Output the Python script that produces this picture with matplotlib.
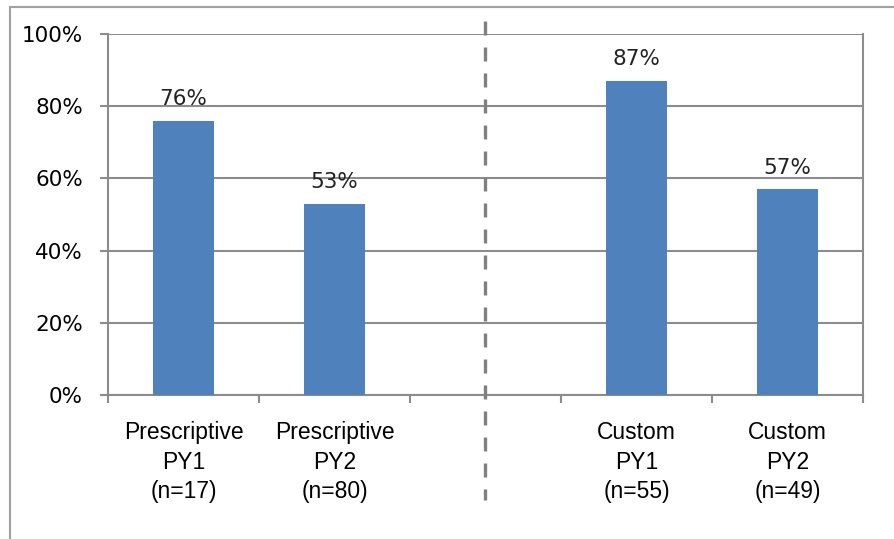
import matplotlib.pyplot as plt
from matplotlib.patches import Rectangle
from matplotlib.lines import Line2D

# Data (blank slot separates the two program groups)
categories = ["Prescriptive\nPY1\n(n=17)", "Prescriptive\nPY2\n(n=80)", "",
              "Custom\nPY1\n(n=55)", "Custom\nPY2\n(n=49)"]
values = [76, 53, None, 87, 57]

BAR_COLOR = "#4F81BD"
GRID_COLOR = "#8C8C8C"

fig = plt.figure(figsize=(8.94, 5.39), dpi=100)
ax = fig.add_axes([0.1208, 0.2672, 0.9653 - 0.1208, 0.9369 - 0.2672])

# bars and value labels
for i, v in enumerate(values):
    if v is None:
        continue
    ax.bar(i, v, width=0.4, color=BAR_COLOR, zorder=3)
    ax.text(i, v + 3.2, f"{v}%", ha="center", va="bottom",
            fontsize=15.5, family="DejaVu Sans", color="#222222")

ax.set_xlim(-0.5, len(categories) - 0.5)
ax.set_ylim(0, 100)

# y axis
ax.set_yticks(range(0, 101, 20))
ax.set_yticklabels([f"{t}%" for t in range(0, 101, 20)],
                   fontsize=15.5, family="DejaVu Sans")
ax.yaxis.grid(True, color=GRID_COLOR, linewidth=1.5, zorder=0)

# x axis: ticks between slots, labels centred under each slot
ax.set_xticks([x - 0.5 for x in range(len(categories) + 1)])
ax.set_xticklabels([])
ax.set_xticks(range(len(categories)), minor=True)
ax.set_xticklabels(categories, minor=True, fontsize=16.5,
                   family="Liberation Sans", linespacing=1.36)
ax.tick_params(axis="x", which="minor", length=0, pad=19)
ax.tick_params(axis="x", which="major", length=6, width=1.5, color=GRID_COLOR)
ax.tick_params(axis="y", length=6, width=1.5, color=GRID_COLOR, pad=12)

for side in ["left", "right", "bottom"]:
    ax.spines[side].set_color(GRID_COLOR)
    ax.spines[side].set_linewidth(1.5)
ax.spines["top"].set_visible(False)

# dashed divider between groups
ax.add_line(Line2D([2, 2], [1.035, -0.29], transform=ax.get_xaxis_transform(),
                   color="#808080", linewidth=2.4, dashes=(4.2, 3.6),
                   clip_on=False, zorder=4))

# outer frame (cropped at right/bottom)
fig.patches.append(Rectangle((10 / 894, -0.2), 1.2, 1.2 - 7 / 539,
                             transform=fig.transFigure, fill=False,
                             edgecolor="#A0A0A0", linewidth=1.5))

fig.savefig("out.png", dpi=100)
